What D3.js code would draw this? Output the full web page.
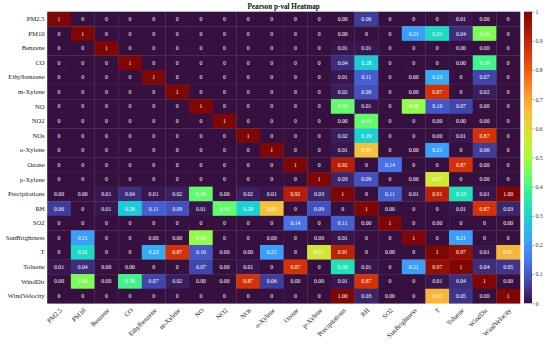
<!DOCTYPE html>
<html>
<head>
<meta charset="utf-8">
<script src="https://cdn.jsdelivr.net/npm/d3@7"></script>
<style>
  html, body { margin: 0; padding: 0; background: #ffffff; }
  svg { display: block; }
  text { font-family: "Liberation Serif", "DejaVu Serif", serif; }
</style>
</head>
<body>
<svg id="chart" width="550" height="344"></svg>
<script>
// ---------------- data ----------------
const chartTitle = "Pearson p-val Heatmap";

const variables = ["PM2.5", "PM10", "Benzene", "CO", "Ethylbenzene", "m-Xylene", "NO", "NO2", "NOs",
  "o-Xylene", "Ozone", "p-Xylene", "Precipitations", "RH", "SO2", "SunBrightness", "T", "Toluene",
  "WindDir", "WindVelocity"];

// displayed p-values (row = y label, column = x label)
const pvalText = [
  ["1","0","0","0","0","0","0","0","0","0","0","0","0.00","0.06","0","0","0","0.01","0.00","0"],
  ["0","1","0","0","0","0","0","0","0","0","0","0","0.00","0","0","0.21","0.31","0.04","0.46","0"],
  ["0","0","1","0","0","0","0","0","0","0","0","0","0.01","0.01","0","0","0","0.00","0.00","0"],
  ["0","0","0","1","0","0","0","0","0","0","0","0","0.04","0.28","0","0","0","0.00","0.39","0"],
  ["0","0","0","0","1","0","0","0","0","0","0","0","0.01","0.11","0","0.00","0.23","0","0.07","0"],
  ["0","0","0","0","0","1","0","0","0","0","0","0","0.02","0.09","0","0.00","0.87","0","0.02","0"],
  ["0","0","0","0","0","0","1","0","0","0","0","0","0.43","0.01","0","0.48","0.10","0.07","0.00","0"],
  ["0","0","0","0","0","0","0","1","0","0","0","0","0.00","0.43","0","0","0.00","0.00","0.00","0"],
  ["0","0","0","0","0","0","0","0","1","0","0","0","0.02","0.29","0","0","0.00","0.01","0.87","0"],
  ["0","0","0","0","0","0","0","0","0","1","0","0","0.01","0.65","0","0.00","0.21","0","0.06","0"],
  ["0","0","0","0","0","0","0","0","0","0","1","0","0.92","0","0.14","0","0","0.87","0.00","0"],
  ["0","0","0","0","0","0","0","0","0","0","0","1","0.03","0.09","0","0.00","0.57","0","0.00","0"],
  ["0.00","0.00","0.01","0.04","0.01","0.02","0.43","0.00","0.02","0.01","0.92","0.03","1","0","0.11","0.01","0.91","0.33","0.01","1.00"],
  ["0.06","0","0.01","0.28","0.11","0.09","0.01","0.43","0.29","0.65","0","0.09","0","1","0.00","0","0","0.01","0.87","0.03"],
  ["0","0","0","0","0","0","0","0","0","0","0.14","0","0.11","0.00","1","0","0.00","0","0","0.00"],
  ["0","0.21","0","0","0.00","0.00","0.48","0","0","0.00","0","0.00","0.01","0","0","1","0","0.21","0","0"],
  ["0","0.31","0","0","0.23","0.87","0.10","0.00","0.00","0.21","0","0.57","0.91","0","0.00","0","1","0.97","0.01","0.67"],
  ["0.01","0.04","0.00","0.00","0","0","0.07","0.00","0.01","0","0.87","0","0.33","0.01","0","0.21","0.97","1","0.04","0.05"],
  ["0.00","0.46","0.00","0.39","0.07","0.02","0.00","0.00","0.87","0.06","0.00","0.00","0.01","0.87","0","0","0.01","0.04","1","0.00"],
  ["0","0","0","0","0","0","0","0","0","0","0","0","1.00","0.03","0.00","0","0.67","0.05","0.00","1"]
];

const colorbarTicks = [0, 0.1, 0.2, 0.3, 0.4, 0.5, 0.6, 0.7, 0.8, 0.9, 1];
const colorbarTickLabels = ["0", "0.1", "0.2", "0.3", "0.4", "0.5", "0.6", "0.7", "0.8", "0.9", "1"];

// turbo-like colormap anchors
const turboStops = ["#36103f", "#4145ab", "#4675ed", "#39a2fc", "#1bcfd4", "#24eca6", "#61fc6c",
  "#a4fc3b", "#d1e834", "#f3c63a", "#fe9b2d", "#f36315", "#d93806", "#b11901", "#7e0605"];

// ---------------- layout ----------------
const svg = d3.select("#chart");
const plot = { left: 47.2, right: 520, top: 11.7, bottom: 303.3 };
const cbar = { left: 524, right: 532 };
const labelFont = '"Liberation Serif", "DejaVu Serif", serif';

const x = d3.scaleBand().domain(variables).range([plot.left, plot.right]).padding(0);
const y = d3.scaleBand().domain(variables).range([plot.top, plot.bottom]).padding(0);
const color = d3.scaleSequential(d3.piecewise(d3.interpolateRgb, turboStops)).domain([0, 1]);

const cells = [];
pvalText.forEach((row, i) => row.forEach((t, j) => {
  cells.push({ row: variables[i], col: variables[j], text: t, value: +t });
}));

// cells
svg.append("g").selectAll("rect").data(cells).join("rect")
  .attr("x", d => x(d.col))
  .attr("y", d => y(d.row))
  .attr("width", x.bandwidth() + 0.3)
  .attr("height", y.bandwidth() + 0.3)
  .attr("fill", d => color(d.value));

// annotations
svg.append("g").selectAll("text").data(cells).join("text")
  .attr("x", d => x(d.col) + x.bandwidth() / 2)
  .attr("y", d => y(d.row) + y.bandwidth() / 2)
  .attr("dy", "0.35em")
  .attr("text-anchor", "middle")
  .attr("font-size", 5.7)
  .attr("fill", "#ffffff")
  .text(d => d.text);

// y axis labels
const yAxis = d3.axisLeft(y).tickSize(0).tickPadding(2.5);
const gy = svg.append("g").attr("transform", `translate(${plot.left},0)`).call(yAxis);
gy.select(".domain").remove();
gy.selectAll("text").attr("font-size", 6.7).attr("fill", "#222")
  .style("font-family", labelFont);

// x axis labels (rotated)
const xAxis = d3.axisBottom(x).tickSize(0).tickPadding(0);
const gx = svg.append("g").attr("transform", `translate(0,${plot.bottom})`).call(xAxis);
gx.select(".domain").remove();
gx.selectAll("text")
  .attr("font-size", 6.7).attr("fill", "#222")
  .style("font-family", labelFont)
  .attr("text-anchor", "end")
  .attr("dy", null)
  .attr("y", 0)
  .attr("transform", "translate(3.5,7.5) rotate(-45)");

// title
svg.append("text")
  .attr("x", (plot.left + plot.right) / 2)
  .attr("y", 8.5)
  .attr("text-anchor", "middle")
  .attr("font-size", 7.2)
  .attr("font-weight", "bold")
  .attr("fill", "#111")
  .text(chartTitle);

// colorbar
const cy = d3.scaleLinear().domain([0, 1]).range([plot.bottom, plot.top]);
const defs = svg.append("defs");
const grad = defs.append("linearGradient").attr("id", "cbgrad")
  .attr("x1", 0).attr("y1", 1).attr("x2", 0).attr("y2", 0);
grad.selectAll("stop").data(d3.range(0, 1.0001, 0.02)).join("stop")
  .attr("offset", d => d)
  .attr("stop-color", d => color(d));
svg.append("rect")
  .attr("x", cbar.left).attr("y", plot.top)
  .attr("width", cbar.right - cbar.left).attr("height", plot.bottom - plot.top)
  .attr("fill", "url(#cbgrad)");

const cAxis = d3.axisRight(cy).tickValues(colorbarTicks)
  .tickFormat((d, i) => colorbarTickLabels[i]).tickSize(2).tickPadding(1.5);
const gc = svg.append("g").attr("transform", `translate(${cbar.right},0)`).call(cAxis);
gc.select(".domain").remove();
gc.selectAll("line").attr("stroke", "#444").attr("stroke-width", 0.5);
gc.selectAll("text").attr("font-size", 5.8).attr("fill", "#333")
  .style("font-family", labelFont);
</script>
</body>
</html>
